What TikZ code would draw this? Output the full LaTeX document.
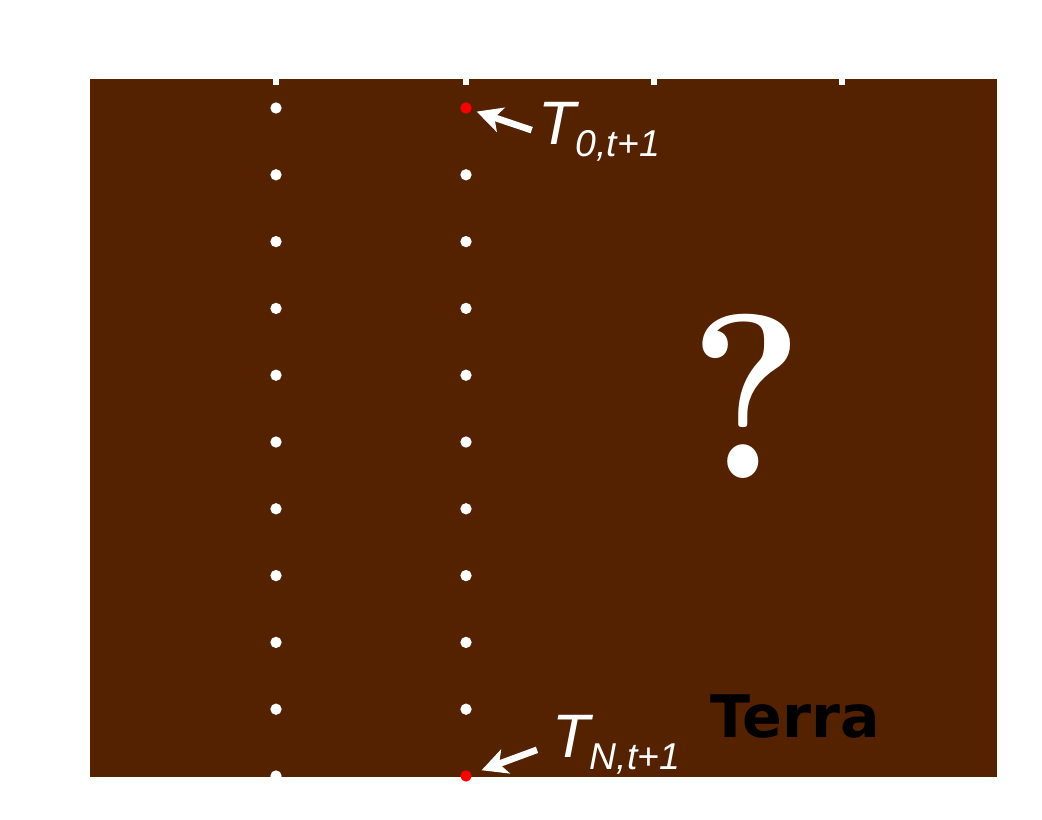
\documentclass[tikz,border=0pt]{standalone}
\usepackage{fontspec}
\setsansfont{Liberation Sans}
\newfontfamily\boldsans{DejaVu Sans}
\usetikzlibrary{arrows.meta, positioning}
\definecolor{soil}{HTML}{552200}

\begin{document}
\begin{tikzpicture}[
    x=0.75pt, y=-0.75pt,
    point/.style={circle, fill=white, inner sep=0pt, minimum size=8.5pt},
    hot/.style={point, fill=red},
    lbl/.style={text=white, font=\sffamily\itshape, inner sep=0pt, anchor=base west},
    arr/.style={-{Stealth[length=19pt, width=19pt, inset=5pt]}, white, line width=5pt}
]
\useasboundingbox (0,0) rectangle (1042,820);
\fill[soil] (90,79) rectangle (997,777);
\foreach \x in {276,466,654,842}
    \fill[white] (\x-3,79) rectangle (\x+3,85);

% depth points
\foreach \i in {0,...,10}
    \node[point] (a\i) at (276,{108+66.8*\i}) {};
\foreach \i in {1,...,9}
    \node[point] (b\i) at (466,{108+66.8*\i}) {};
\node[hot] (b0) at (466,108) {};
\node[hot] (b10) at (466,776) {};

\node[lbl] (ltop) at (538,145) {\fontsize{46}{46}\selectfont T\fontsize{28}{28}\selectfont\raisebox{-9pt}{0,t+1}};
\node[lbl] (lbot) at (552,757) {\fontsize{46}{46}\selectfont T\fontsize{28}{28}\selectfont\raisebox{-9pt}{N,t+1}};
\node[text=white, inner sep=0pt, anchor=base] (unk) at (747,478) {\scalebox{0.92}[1]{\bfseries\fontsize{176}{176}\selectfont ?}};
\node[anchor=base west, inner sep=0pt, font=\boldsans\bfseries\fontsize{44}{44}\selectfont] (terra) at (710,737) {Terra};

\draw[arr, shorten <=5pt, shorten >=4pt] (ltop.west) -- (b0);
\draw[arr, shorten <=12pt, shorten >=8pt] (lbot.west) -- (b10);
\end{tikzpicture}
\end{document}
